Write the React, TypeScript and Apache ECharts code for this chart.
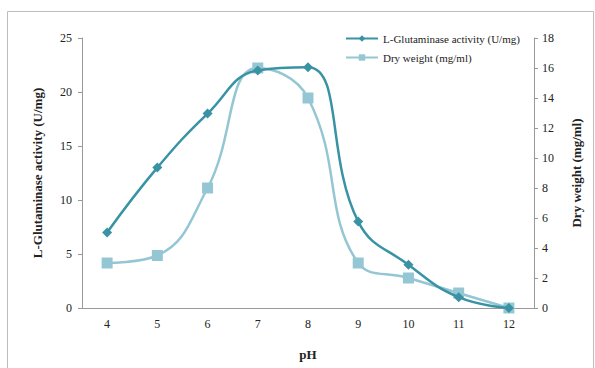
import React, { useEffect, useRef } from "react";
import * as echarts from "echarts";

const phLabels = ["4", "5", "6", "7", "8", "9", "10", "11", "12"];
const activity = [7, 13, 18, 22, 22.3, 8, 4, 1, 0];
const dryWeight = [3, 3.5, 8, 16, 14, 3, 2, 1, 0];

const FONT = "Liberation Serif";

export default function App() {
  const ref = useRef<HTMLDivElement>(null);
  useEffect(() => {
    document.body.style.margin = "0";
    const chart = echarts.init(ref.current!, null, { renderer: "svg" });
    chart.setOption({
      animation: false,
      backgroundColor: "#ffffff",
      textStyle: { fontFamily: FONT },
      graphic: [
        {
          type: "rect",
          shape: { x: 7.5, y: 11.5, width: 586, height: 370 },
          style: { fill: "none", stroke: "#bdbdbd", lineWidth: 1 },
          z: -1,
        },
      ],
      legend: {
        orient: "vertical",
        left: 340,
        top: 28,
        itemWidth: 32,
        itemHeight: 8,
        itemGap: 8,
        textStyle: { fontFamily: FONT, fontSize: 11, color: "#222" },
        data: ["L-Glutaminase activity (U/mg)", "Dry weight (mg/ml)"],
      },
      grid: { left: 82, right: 61, top: 38, bottom: 60 },
      xAxis: {
        type: "category",
        data: phLabels,
        name: "pH",
        nameLocation: "middle",
        nameGap: 40,
        nameTextStyle: { fontFamily: FONT, fontSize: 13, fontWeight: "bold", color: "#222" },
        axisLine: { lineStyle: { color: "#999" } },
        axisTick: { alignWithLabel: true, inside: false, length: 4, lineStyle: { color: "#999" } },
        axisLabel: { fontFamily: FONT, fontSize: 12, color: "#222", margin: 10 },
      },
      yAxis: [
        {
          type: "value",
          min: 0,
          max: 25,
          interval: 5,
          name: "L-Glutaminase activity (U/mg)",
          nameLocation: "middle",
          nameGap: 38,
          nameTextStyle: { fontFamily: FONT, fontSize: 13, fontWeight: "bold", color: "#222" },
          axisLine: { show: true, lineStyle: { color: "#999" } },
          axisTick: { show: true, length: 4, lineStyle: { color: "#999" } },
          splitLine: { show: false },
          axisLabel: { fontFamily: FONT, fontSize: 12, color: "#222", margin: 10 },
        },
        {
          type: "value",
          min: 0,
          max: 18,
          interval: 2,
          name: "Dry weight (mg/ml)",
          nameLocation: "middle",
          nameGap: 36,
          nameRotate: 90,
          nameTextStyle: { fontFamily: FONT, fontSize: 13, fontWeight: "bold", color: "#222" },
          axisLine: { show: true, lineStyle: { color: "#999" } },
          axisTick: { show: true, length: 4, lineStyle: { color: "#999" } },
          splitLine: { show: false },
          axisLabel: { fontFamily: FONT, fontSize: 12, color: "#222", margin: 8 },
        },
      ],
      series: [
        {
          name: "L-Glutaminase activity (U/mg)",
          type: "line",
          yAxisIndex: 0,
          data: activity,
          smooth: 0.45,
          symbol: "diamond",
          symbolSize: 10,
          lineStyle: { color: "#3a93a4", width: 2.5 },
          itemStyle: { color: "#3a93a4" },
          z: 3,
        },
        {
          name: "Dry weight (mg/ml)",
          type: "line",
          yAxisIndex: 1,
          data: dryWeight,
          smooth: 0.45,
          symbol: "rect",
          symbolSize: 11,
          lineStyle: { color: "#94c6d4", width: 2.5 },
          itemStyle: { color: "#94c6d4" },
          z: 2,
        },
      ],
    });
    return () => chart.dispose();
  }, []);
  return <div ref={ref} style={{ width: 595, height: 368 }} />;
}
